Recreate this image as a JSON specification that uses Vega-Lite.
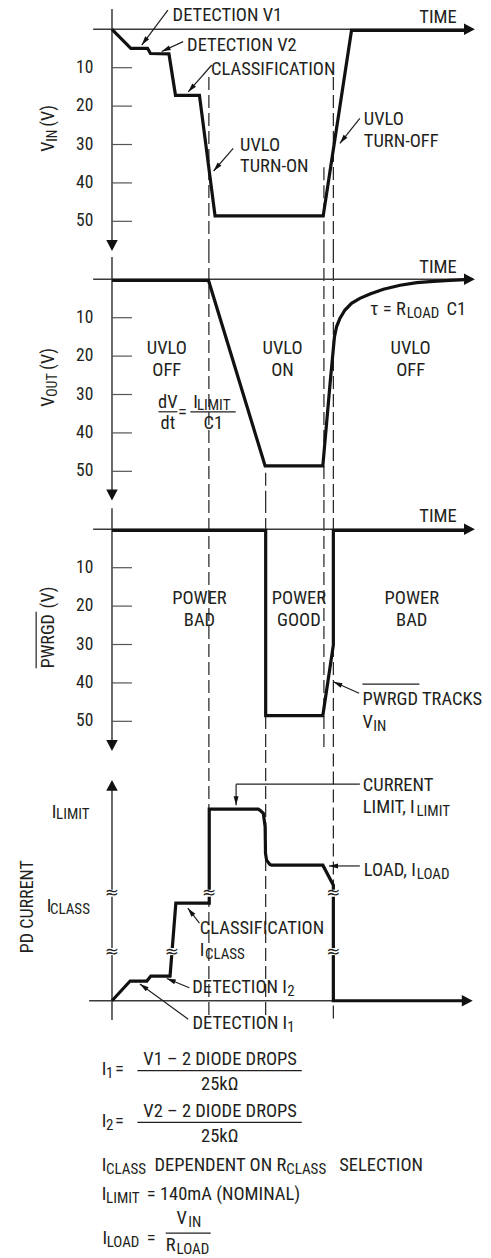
{
"$schema": "https://vega.github.io/schema/vega-lite/v6.json",
"padding": 0,
"spacing": 0,
"bounds": "flush",
"background": "white",
"config": {"view": {"stroke": null}, "axis": {"disable": true}, "text": {"font": "'Liberation Sans Narrow', 'Roboto Condensed', Roboto, sans-serif", "color": "#231f20"}},
"datasets": {
"top": [
{"p":"p1","k":"ax","t":-5.2,"t2":98,"v":0,"v2":0},
{"p":"p1","k":"ax","t":0,"t2":0,"v":-5.3,"v2":55},
{"p":"p1","k":"axhead","t":97,"v":0,"t2":100,"v2":0},
{"p":"p1","k":"axhead","t":0,"v":54,"t2":0,"v2":57.7},
{"p":"p1","k":"tick","t":-5.15,"v":10,"s":"10"},{"p":"p1","k":"tick","t":-5.15,"v":20,"s":"20"},{"p":"p1","k":"tick","t":-5.15,"v":30,"s":"30"},{"p":"p1","k":"tick","t":-5.15,"v":40,"s":"40"},{"p":"p1","k":"tick","t":-5.15,"v":50,"s":"50"},
{"p":"p1","k":"txtr","t":95,"v":-1.6,"s":"TIME"},
{"p":"p1","k":"trace","o":1,"t":0,"v":0},
{"p":"p1","k":"trace","o":2,"t":5.2,"v":4.95},
{"p":"p1","k":"trace","o":3,"t":9.8,"v":4.95},
{"p":"p1","k":"trace","o":4,"t":10.6,"v":6.3},
{"p":"p1","k":"trace","o":5,"t":15.7,"v":6.4},
{"p":"p1","k":"trace","o":6,"t":17.5,"v":17.2},
{"p":"p1","k":"trace","o":7,"t":24.1,"v":17.2},
{"p":"p1","k":"trace","o":8,"t":28.4,"v":48.6},
{"p":"p1","k":"trace","o":9,"t":58.2,"v":48.6},
{"p":"p1","k":"trace","o":10,"t":66.0,"v":0.3},
{"p":"p1","k":"trace","o":11,"t":98,"v":0.3},
{"p":"p1","k":"dash","t":26.7,"v":12.4,"v2":57.47},
{"p":"p1","k":"dash","t":58.4,"v":35.9,"v2":57.47},
{"p":"p1","k":"dash","t":61.0,"v":12.4,"v2":57.47},
{"p":"p1","k":"lead","h":1,"t":15.4,"v":-5.0,"t2":8.2,"v2":4.1},
{"p":"p1","k":"lead","h":1,"t":19.6,"v":3.2,"t2":13.7,"v2":5.8},
{"p":"p1","k":"lead","h":1,"t":27.5,"v":9.3,"t2":21.0,"v2":16.3},
{"p":"p1","k":"lead","h":1,"t":33.4,"v":31.0,"t2":28.0,"v2":36.9},
{"p":"p1","k":"lead","h":1,"t":68.3,"v":23.2,"t2":62.8,"v2":29.7},
{"p":"p1","k":"txt","t":16.7,"v":-2.24,"s":"DETECTION V1"},
{"p":"p1","k":"txt","t":20.7,"v":5.57,"s":"DETECTION V2"},
{"p":"p1","k":"txt","t":27.3,"v":11.9,"s":"CLASSIFICATION"},
{"p":"p1","k":"txt","t":35.3,"v":31.6,"s":"UVLO"},
{"p":"p1","k":"txt","t":35.3,"v":37.1,"s":"TURN-ON"},
{"p":"p1","k":"txt","t":69.4,"v":24.9,"s":"UVLO"},
{"p":"p1","k":"txt","t":69.4,"v":30.6,"s":"TURN-OFF"},
{"p":"p1","k":"title","t":-16.0,"v":31.9,"s":"V"},
{"p":"p1","k":"titlesub","t":-16.0,"v":29.3,"s":"IN"},
{"p":"p1","k":"title","t":-16.0,"v":25.4,"s":"(V)"},

{"p":"p2","k":"ax","t":-5.2,"t2":98,"v":0,"v2":0},
{"p":"p2","k":"ax","t":0,"t2":0,"v":-5.8,"v2":55},
{"p":"p2","k":"axhead","t":97,"v":0,"t2":100,"v2":0},
{"p":"p2","k":"axhead","t":0,"v":54,"t2":0,"v2":57.6},
{"p":"p2","k":"tick","t":-5.15,"v":10,"s":"10"},{"p":"p2","k":"tick","t":-5.15,"v":20,"s":"20"},{"p":"p2","k":"tick","t":-5.15,"v":30,"s":"30"},{"p":"p2","k":"tick","t":-5.15,"v":40,"s":"40"},{"p":"p2","k":"tick","t":-5.15,"v":50,"s":"50"},
{"p":"p2","k":"txtr","t":95,"v":-1.7,"s":"TIME"},
{"p":"p2","k":"trace","o":1,"t":0,"v":0.3},
{"p":"p2","k":"trace","o":2,"t":26.6,"v":0.3},
{"p":"p2","k":"trace","o":3,"t":42.2,"v":48.6},
{"p":"p2","k":"trace","o":4,"t":58.1,"v":48.6},
{"p":"p2","k":"trace","o":5,"t":60.1,"v":27.1},
{"p":"p2","k":"trace","o":6,"t":61.3,"v":15.0},
{"p":"p2","k":"trace","o":7,"t":61.9,"v":12.3},
{"p":"p2","k":"trace","o":8,"t":62.8,"v":10.2},
{"p":"p2","k":"trace","o":9,"t":64.2,"v":8.0},
{"p":"p2","k":"trace","o":10,"t":66.0,"v":6.25},
{"p":"p2","k":"trace","o":11,"t":68.3,"v":4.95},
{"p":"p2","k":"trace","o":12,"t":71.1,"v":3.83},
{"p":"p2","k":"trace","o":13,"t":74.8,"v":2.6},
{"p":"p2","k":"trace","o":14,"t":79.4,"v":1.56},
{"p":"p2","k":"trace","o":15,"t":84.0,"v":0.88},
{"p":"p2","k":"trace","o":16,"t":88.5,"v":0.52},
{"p":"p2","k":"trace","o":17,"t":93.1,"v":0.26},
{"p":"p2","k":"trace","o":18,"t":97.3,"v":0.1},
{"p":"p2","k":"dash","t":26.7,"v":-7.63,"v2":57.47},
{"p":"p2","k":"dash","t":42.35,"v":50.4,"v2":57.47},
{"p":"p2","k":"dash","t":58.4,"v":-7.63,"v2":57.47},
{"p":"p2","k":"dash","t":61.0,"v":-7.63,"v2":57.47},
{"p":"p2","k":"txtc","t":15.1,"v":19.45,"s":"UVLO"},
{"p":"p2","k":"txtc","t":15.1,"v":25.2,"s":"OFF"},
{"p":"p2","k":"txtc","t":47.0,"v":19.45,"s":"UVLO"},
{"p":"p2","k":"txtc","t":47.0,"v":25.2,"s":"ON"},
{"p":"p2","k":"txtc","t":82.3,"v":19.45,"s":"UVLO"},
{"p":"p2","k":"txtc","t":82.3,"v":25.2,"s":"OFF"},
{"p":"p2","k":"txt","t":71.1,"v":9.3,"s":"τ = R"},
{"p":"p2","k":"sub","t":81.2,"v":9.3,"s":"LOAD"},
{"p":"p2","k":"txt","t":92.2,"v":9.3,"s":"C1"},
{"p":"p2","k":"txtc","t":15.4,"v":33.6,"s":"dV"},
{"p":"p2","k":"bar","t":12.8,"t2":18.0,"v":34.5,"v2":34.5},
{"p":"p2","k":"txtc","t":15.4,"v":39.1,"s":"dt"},
{"p":"p2","k":"txtc","t":19.4,"v":36.0,"s":"="},
{"p":"p2","k":"txt","t":22.4,"v":33.6,"s":"I"},
{"p":"p2","k":"sub","t":23.4,"v":33.2,"s":"LIMIT"},
{"p":"p2","k":"bar","t":21.6,"t2":34.1,"v":34.5,"v2":34.5},
{"p":"p2","k":"txtc","t":27.9,"v":39.1,"s":"C1"},
{"p":"p2","k":"title","t":-16.0,"v":33.2,"s":"V"},
{"p":"p2","k":"titlesub","t":-16.0,"v":30.6,"s":"OUT"},
{"p":"p2","k":"title","t":-16.0,"v":23.6,"s":"(V)"},

{"p":"p3","k":"ax","t":-5.2,"t2":98,"v":0,"v2":0},
{"p":"p3","k":"ax","t":0,"t2":0,"v":-5.5,"v2":55},
{"p":"p3","k":"axhead","t":97,"v":0,"t2":100,"v2":0},
{"p":"p3","k":"axhead","t":0,"v":54,"t2":0,"v2":57.7},
{"p":"p3","k":"tick","t":-5.15,"v":10,"s":"10"},{"p":"p3","k":"tick","t":-5.15,"v":20,"s":"20"},{"p":"p3","k":"tick","t":-5.15,"v":30,"s":"30"},{"p":"p3","k":"tick","t":-5.15,"v":40,"s":"40"},{"p":"p3","k":"tick","t":-5.15,"v":50,"s":"50"},
{"p":"p3","k":"txtr","t":95,"v":-1.82,"s":"TIME"},
{"p":"p3","k":"trace","o":1,"t":0,"v":0.3},
{"p":"p3","k":"trace","o":2,"t":42.35,"v":0.3},
{"p":"p3","k":"trace","o":3,"t":42.35,"v":48.5},
{"p":"p3","k":"trace","o":4,"t":58.1,"v":48.5},
{"p":"p3","k":"trace","o":5,"t":61.0,"v":30.1},
{"p":"p3","k":"trace","o":6,"t":61.0,"v":0.3},
{"p":"p3","k":"trace","o":7,"t":98,"v":0.3},
{"p":"p3","k":"dash","t":26.7,"v":-7.63,"v2":57.47},
{"p":"p3","k":"dash","t":42.35,"v":-7.63,"v2":57.47},
{"p":"p3","k":"dash","t":58.4,"v":-7.63,"v2":57.47},
{"p":"p3","k":"dash","t":61.0,"v":-7.63,"v2":57.47},
{"p":"p3","k":"txtc","t":24.1,"v":19.53,"s":"POWER"},
{"p":"p3","k":"txtc","t":24.1,"v":25.1,"s":"BAD"},
{"p":"p3","k":"txtc","t":51.5,"v":19.53,"s":"POWER"},
{"p":"p3","k":"txtc","t":51.5,"v":25.1,"s":"GOOD"},
{"p":"p3","k":"txtc","t":82.6,"v":19.53,"s":"POWER"},
{"p":"p3","k":"txtc","t":82.6,"v":25.1,"s":"BAD"},
{"p":"p3","k":"txt","t":69.0,"v":45.75,"s":"PWRGD TRACKS"},
{"p":"p3","k":"bar","t":69.0,"t2":84.7,"v":40.3,"v2":40.3},
{"p":"p3","k":"txt","t":69.0,"v":51.8,"s":"V"},
{"p":"p3","k":"sub","t":72.0,"v":51.8,"s":"IN"},
{"p":"p3","k":"lead","h":1,"t":68.1,"v":42.7,"t2":61.0,"v2":39.7},
{"p":"p3","k":"title","t":-16.0,"v":36.2,"s":"PWRGD"},
{"p":"p3","k":"title","t":-16.0,"v":20.6,"s":"(V)"},
{"p":"p3","k":"bar","t":-20.9,"t2":-20.9,"v":21.5,"v2":36.2}
],
"bottom": [
{"k":"ax","t":-6.3,"t2":97,"v":0,"v2":0},
{"k":"ax","t":0,"t2":0,"v":-5.0,"v2":55},
{"k":"axhead","t":96,"v":0,"t2":99.4,"v2":0},
{"k":"axhead","t":0,"v":54,"t2":0,"v2":57.5},
{"k":"tick","v":50},
{"k":"tick","v":25},
{"k":"dash","t":26.7,"v":-3.7,"v2":65.3},
{"k":"dash","t":42.35,"v":-3.7,"v2":65.3},
{"k":"dash","t":61.0,"v":-4.6,"v2":65.3},
{"k":"trace","o":1,"t":0,"v":0},
{"k":"trace","o":2,"t":5.0,"v":5.13},
{"k":"trace","o":3,"t":9.6,"v":5.13},
{"k":"trace","o":4,"t":10.7,"v":6.43},
{"k":"trace","o":5,"t":16.0,"v":6.43},
{"k":"trace","o":6,"t":17.6,"v":25.4},
{"k":"trace","o":7,"t":26.8,"v":25.4},
{"k":"trace","o":8,"t":26.8,"v":49.9},
{"k":"trace","o":9,"t":40.3,"v":49.9},
{"k":"trace","o":10,"t":40.8,"v":49.6},
{"k":"trace","o":11,"t":41.7,"v":48.8},
{"k":"trace","o":12,"t":42.2,"v":45.3},
{"k":"trace","o":13,"t":42.3,"v":38.4},
{"k":"trace","o":14,"t":42.6,"v":36.6},
{"k":"trace","o":15,"t":43.5,"v":35.5},
{"k":"trace","o":16,"t":44.0,"v":35.3},
{"k":"trace","o":17,"t":58.1,"v":35.3},
{"k":"trace","o":18,"t":61.0,"v":30.1},
{"k":"trace","o":19,"t":61.0,"v":0},
{"k":"trace","o":20,"t":97,"v":0},
{"k":"brk","t":0,"v":28.0},
{"k":"brk","t":0,"v":12.8},
{"k":"brk","t":26.8,"v":28.0},
{"k":"brk","t":16.5,"v":12.8},
{"k":"brk","t":61.0,"v":28.0},
{"k":"brk","t":61.0,"v":12.8},
{"k":"lead","h":0,"t":68.3,"v":56.4,"t2":34.2,"v2":56.4},
{"k":"lead","h":1,"t":34.2,"v":56.4,"t2":34.2,"v2":50.9},
{"k":"lead","h":1,"t":68.3,"v":35.1,"t2":59.8,"v2":35.1},
{"k":"lead","h":1,"t":24.1,"v":20.2,"t2":20.9,"v2":24.1},
{"k":"lead","h":1,"t":21.3,"v":3.4,"t2":15.1,"v2":5.8},
{"k":"lead","h":1,"t":21.0,"v":-4.8,"t2":7.7,"v2":4.35},
{"k":"txt","t":-16.6,"v":47.5,"s":"I"},
{"k":"sub","t":-15.4,"v":48.0,"s":"LIMIT"},
{"k":"txt","t":-18.0,"v":23.2,"s":"I"},
{"k":"sub","t":-17.1,"v":23.4,"s":"CLASS"},
{"k":"titlec","t":-21.7,"v":24.5,"s":"PD CURRENT"},
{"k":"txt","t":69.1,"v":54.5,"s":"CURRENT"},
{"k":"txt","t":69.1,"v":48.8,"s":"LIMIT, I"},
{"k":"sub","t":83.9,"v":48.8,"s":"LIMIT"},
{"k":"txt","t":69.4,"v":32.5,"s":"LOAD, I"},
{"k":"sub","t":84.0,"v":32.5,"s":"LOAD"},
{"k":"txt","t":24.2,"v":17.5,"s":"CLASSIFICATION"},
{"k":"txt","t":24.2,"v":11.6,"s":"I"},
{"k":"sub","t":25.6,"v":11.6,"s":"CLASS"},
{"k":"txt","t":22.1,"v":1.9,"s":"DETECTION I"},
{"k":"sub","t":48.3,"v":1.9,"s":"2"},
{"k":"txt","t":22.2,"v":-7.45,"s":"DETECTION I"},
{"k":"sub","t":48.3,"v":-7.45,"s":"1"},
{"k":"txt","t":-2.84,"v":-19.35,"s":"I"},
{"k":"sub","t":-1.65,"v":-19.35,"s":"1"},
{"k":"txt","t":0.83,"v":-19.35,"s":"="},
{"k":"txtc","t":29.8,"v":-16.75,"s":"V1 – 2 DIODE DROPS"},
{"k":"bar","t":7.0,"t2":52.3,"v":-18.2,"v2":-18.2},
{"k":"txtc","t":29.7,"v":-23.25,"s":"25kΩ"},
{"k":"txt","t":-2.84,"v":-32.8,"s":"I"},
{"k":"sub","t":-1.65,"v":-32.8,"s":"2"},
{"k":"txt","t":0.83,"v":-32.8,"s":"="},
{"k":"txtc","t":29.8,"v":-30.4,"s":"V2 – 2 DIODE DROPS"},
{"k":"bar","t":7.0,"t2":52.3,"v":-31.7,"v2":-31.7},
{"k":"txtc","t":29.7,"v":-36.7,"s":"25kΩ"},
{"k":"txt","t":-2.84,"v":-44.3,"s":"I"},
{"k":"sub","t":-1.65,"v":-44.3,"s":"CLASS"},
{"k":"txt","t":11.7,"v":-44.3,"s":"DEPENDENT ON R"},
{"k":"sub","t":48.0,"v":-44.3,"s":"CLASS"},
{"k":"txt","t":62.6,"v":-44.3,"s":"SELECTION"},
{"k":"txt","t":-2.84,"v":-51.9,"s":"I"},
{"k":"sub","t":-1.65,"v":-51.9,"s":"LIMIT"},
{"k":"txt","t":9.6,"v":-51.9,"s":"= 140mA (NOMINAL)"},
{"k":"txt","t":-2.6,"v":-63.3,"s":"I"},
{"k":"sub","t":-1.46,"v":-63.3,"s":"LOAD"},
{"k":"txt","t":9.6,"v":-63.3,"s":"="},
{"k":"txt","t":17.8,"v":-58.2,"s":"V"},
{"k":"sub","t":21.0,"v":-58.2,"s":"IN"},
{"k":"bar","t":14.8,"t2":27.2,"v":-60.5,"v2":-60.5},
{"k":"txt","t":14.8,"v":-65.2,"s":"R"},
{"k":"sub","t":17.8,"v":-65.2,"s":"LOAD"}
]
},
"vconcat": [
{
"data": {"name": "top"},
"transform": [{"filter": "datum.p=='p1'"}],
"width": 491, "height": 250,
"encoding": {
"x": {"field": "t", "type": "quantitative", "axis": null, "scale": {"domain": [-30.86, 104.44], "nice": false, "zero": false}},
"y": {"field": "v", "type": "quantitative", "axis": null, "scale": {"domain": [-7.63, 57.47], "nice": false, "zero": false, "reverse": true}}
},
"layer": [
{"transform":[{"filter":"datum.k=='dash'"}],"mark":{"type":"rule","strokeDash":[13,5],"strokeWidth":1.2,"color":"#231f20"},"encoding":{"y2":{"field":"v2"}}},
{"transform":[{"filter":"datum.k=='ax'"}],"mark":{"type":"rule","strokeWidth":1.5,"color":"#3a3a3a"},"encoding":{"x2":{"field":"t2"},"y2":{"field":"v2"}}},
{"transform":[{"filter":"datum.k=='tick'"}],"mark":{"type":"rule","strokeWidth":1.2,"color":"#555555"},"encoding":{"x":{"datum":0,"type":"quantitative","axis":null},"x2":{"datum":5.5}}},
{"transform":[{"filter":"datum.k=='tick'"}],"mark":{"type":"text","align":"right","baseline":"middle","fontSize":17.5},"encoding":{"text":{"field":"s"}}},
{"transform":[{"filter":"datum.k=='trace'"}],"mark":{"type":"line","strokeWidth":3.2,"color":"#111111","strokeJoin":"miter","strokeMiterLimit":3},"encoding":{"order":{"field":"o","type":"quantitative"}}},
{"transform":[{"filter":"datum.k=='lead' || datum.k=='bar'"}],"mark":{"type":"rule","strokeWidth":1.2,"color":"#231f20"},"encoding":{"x2":{"field":"t2"},"y2":{"field":"v2"}}},
{"transform":[{"filter":"datum.k=='lead' && datum.h==1"},{"calculate":"atan2((datum.t2-datum.t)*3.629, -(datum.v2-datum.v)*3.84)*180/PI","as":"ang"}],"mark":{"type":"point","shape":"M0,0L0.55,2L-0.55,2Z","filled":true,"opacity":1,"color":"#111111","size":81,"strokeWidth":0},"encoding":{"x":{"field":"t2","type":"quantitative","axis":null},"y":{"field":"v2","type":"quantitative","axis":null},"angle":{"field":"ang","type":"quantitative","scale":null}}},
{"transform":[{"filter":"datum.k=='axhead'"},{"calculate":"atan2((datum.t2-datum.t)*3.629, -(datum.v2-datum.v)*3.84)*180/PI","as":"ang"}],"mark":{"type":"point","shape":"M0,0L1,1.9L-1,1.9Z","filled":true,"opacity":1,"color":"#111111","size":132,"strokeWidth":0},"encoding":{"x":{"field":"t2","type":"quantitative","axis":null},"y":{"field":"v2","type":"quantitative","axis":null},"angle":{"field":"ang","type":"quantitative","scale":null}}},
{"transform":[{"filter":"datum.k=='txt'"}],"mark":{"type":"text","align":"left","baseline":"alphabetic","fontSize":18.5},"encoding":{"text":{"field":"s"}}},
{"transform":[{"filter":"datum.k=='txtc'"}],"mark":{"type":"text","align":"center","baseline":"alphabetic","fontSize":18.5},"encoding":{"text":{"field":"s"}}},
{"transform":[{"filter":"datum.k=='txtr'"}],"mark":{"type":"text","align":"right","baseline":"alphabetic","fontSize":18.5},"encoding":{"text":{"field":"s"}}},
{"transform":[{"filter":"datum.k=='sub'"}],"mark":{"type":"text","align":"left","baseline":"alphabetic","fontSize":15,"dy":3},"encoding":{"text":{"field":"s"}}},
{"transform":[{"filter":"datum.k=='title'"}],"mark":{"type":"text","align":"left","baseline":"alphabetic","fontSize":18,"angle":270},"encoding":{"text":{"field":"s"}}},
{"transform":[{"filter":"datum.k=='titlesub'"}],"mark":{"type":"text","align":"left","baseline":"alphabetic","fontSize":14,"angle":270,"dy":3.5},"encoding":{"text":{"field":"s"}}}
]
},
{
"data": {"name": "top"},
"transform": [{"filter": "datum.p=='p2'"}],
"width": 491, "height": 250,
"encoding": {
"x": {"field": "t", "type": "quantitative", "axis": null, "scale": {"domain": [-30.86, 104.44], "nice": false, "zero": false}},
"y": {"field": "v", "type": "quantitative", "axis": null, "scale": {"domain": [-7.63, 57.47], "nice": false, "zero": false, "reverse": true}}
},
"layer": [
{"transform":[{"filter":"datum.k=='dash'"}],"mark":{"type":"rule","strokeDash":[13,5],"strokeWidth":1.2,"color":"#231f20"},"encoding":{"y2":{"field":"v2"}}},
{"transform":[{"filter":"datum.k=='ax'"}],"mark":{"type":"rule","strokeWidth":1.5,"color":"#3a3a3a"},"encoding":{"x2":{"field":"t2"},"y2":{"field":"v2"}}},
{"transform":[{"filter":"datum.k=='tick'"}],"mark":{"type":"rule","strokeWidth":1.2,"color":"#555555"},"encoding":{"x":{"datum":0,"type":"quantitative","axis":null},"x2":{"datum":5.5}}},
{"transform":[{"filter":"datum.k=='tick'"}],"mark":{"type":"text","align":"right","baseline":"middle","fontSize":17.5},"encoding":{"text":{"field":"s"}}},
{"transform":[{"filter":"datum.k=='trace'"}],"mark":{"type":"line","strokeWidth":3.2,"color":"#111111","strokeJoin":"miter","strokeMiterLimit":3},"encoding":{"order":{"field":"o","type":"quantitative"}}},
{"transform":[{"filter":"datum.k=='lead' || datum.k=='bar'"}],"mark":{"type":"rule","strokeWidth":1.2,"color":"#231f20"},"encoding":{"x2":{"field":"t2"},"y2":{"field":"v2"}}},
{"transform":[{"filter":"datum.k=='axhead'"},{"calculate":"atan2((datum.t2-datum.t)*3.629, -(datum.v2-datum.v)*3.84)*180/PI","as":"ang"}],"mark":{"type":"point","shape":"M0,0L1,1.9L-1,1.9Z","filled":true,"opacity":1,"color":"#111111","size":132,"strokeWidth":0},"encoding":{"x":{"field":"t2","type":"quantitative","axis":null},"y":{"field":"v2","type":"quantitative","axis":null},"angle":{"field":"ang","type":"quantitative","scale":null}}},
{"transform":[{"filter":"datum.k=='txt'"}],"mark":{"type":"text","align":"left","baseline":"alphabetic","fontSize":18.5},"encoding":{"text":{"field":"s"}}},
{"transform":[{"filter":"datum.k=='txtc'"}],"mark":{"type":"text","align":"center","baseline":"alphabetic","fontSize":18.5},"encoding":{"text":{"field":"s"}}},
{"transform":[{"filter":"datum.k=='txtr'"}],"mark":{"type":"text","align":"right","baseline":"alphabetic","fontSize":18.5},"encoding":{"text":{"field":"s"}}},
{"transform":[{"filter":"datum.k=='sub'"}],"mark":{"type":"text","align":"left","baseline":"alphabetic","fontSize":15,"dy":3},"encoding":{"text":{"field":"s"}}},
{"transform":[{"filter":"datum.k=='title'"}],"mark":{"type":"text","align":"left","baseline":"alphabetic","fontSize":18,"angle":270},"encoding":{"text":{"field":"s"}}},
{"transform":[{"filter":"datum.k=='titlesub'"}],"mark":{"type":"text","align":"left","baseline":"alphabetic","fontSize":14,"angle":270,"dy":3.5},"encoding":{"text":{"field":"s"}}}
]
},
{
"data": {"name": "top"},
"transform": [{"filter": "datum.p=='p3'"}],
"width": 491, "height": 250,
"encoding": {
"x": {"field": "t", "type": "quantitative", "axis": null, "scale": {"domain": [-30.86, 104.44], "nice": false, "zero": false}},
"y": {"field": "v", "type": "quantitative", "axis": null, "scale": {"domain": [-7.63, 57.47], "nice": false, "zero": false, "reverse": true}}
},
"layer": [
{"transform":[{"filter":"datum.k=='dash'"}],"mark":{"type":"rule","strokeDash":[13,5],"strokeWidth":1.2,"color":"#231f20"},"encoding":{"y2":{"field":"v2"}}},
{"transform":[{"filter":"datum.k=='ax'"}],"mark":{"type":"rule","strokeWidth":1.5,"color":"#3a3a3a"},"encoding":{"x2":{"field":"t2"},"y2":{"field":"v2"}}},
{"transform":[{"filter":"datum.k=='tick'"}],"mark":{"type":"rule","strokeWidth":1.2,"color":"#555555"},"encoding":{"x":{"datum":0,"type":"quantitative","axis":null},"x2":{"datum":5.5}}},
{"transform":[{"filter":"datum.k=='tick'"}],"mark":{"type":"text","align":"right","baseline":"middle","fontSize":17.5},"encoding":{"text":{"field":"s"}}},
{"transform":[{"filter":"datum.k=='trace'"}],"mark":{"type":"line","strokeWidth":3.2,"color":"#111111","strokeJoin":"miter","strokeMiterLimit":3},"encoding":{"order":{"field":"o","type":"quantitative"}}},
{"transform":[{"filter":"datum.k=='lead' || datum.k=='bar'"}],"mark":{"type":"rule","strokeWidth":1.2,"color":"#231f20"},"encoding":{"x2":{"field":"t2"},"y2":{"field":"v2"}}},
{"transform":[{"filter":"datum.k=='lead' && datum.h==1"},{"calculate":"atan2((datum.t2-datum.t)*3.629, -(datum.v2-datum.v)*3.84)*180/PI","as":"ang"}],"mark":{"type":"point","shape":"M0,0L0.55,2L-0.55,2Z","filled":true,"opacity":1,"color":"#111111","size":81,"strokeWidth":0},"encoding":{"x":{"field":"t2","type":"quantitative","axis":null},"y":{"field":"v2","type":"quantitative","axis":null},"angle":{"field":"ang","type":"quantitative","scale":null}}},
{"transform":[{"filter":"datum.k=='axhead'"},{"calculate":"atan2((datum.t2-datum.t)*3.629, -(datum.v2-datum.v)*3.84)*180/PI","as":"ang"}],"mark":{"type":"point","shape":"M0,0L1,1.9L-1,1.9Z","filled":true,"opacity":1,"color":"#111111","size":132,"strokeWidth":0},"encoding":{"x":{"field":"t2","type":"quantitative","axis":null},"y":{"field":"v2","type":"quantitative","axis":null},"angle":{"field":"ang","type":"quantitative","scale":null}}},
{"transform":[{"filter":"datum.k=='txt'"}],"mark":{"type":"text","align":"left","baseline":"alphabetic","fontSize":18.5},"encoding":{"text":{"field":"s"}}},
{"transform":[{"filter":"datum.k=='txtc'"}],"mark":{"type":"text","align":"center","baseline":"alphabetic","fontSize":18.5},"encoding":{"text":{"field":"s"}}},
{"transform":[{"filter":"datum.k=='txtr'"}],"mark":{"type":"text","align":"right","baseline":"alphabetic","fontSize":18.5},"encoding":{"text":{"field":"s"}}},
{"transform":[{"filter":"datum.k=='sub'"}],"mark":{"type":"text","align":"left","baseline":"alphabetic","fontSize":15,"dy":3},"encoding":{"text":{"field":"s"}}},
{"transform":[{"filter":"datum.k=='title'"}],"mark":{"type":"text","align":"left","baseline":"alphabetic","fontSize":18,"angle":270},"encoding":{"text":{"field":"s"}}}
]
},
{
"data": {"name": "bottom"},
"width": 491, "height": 508,
"encoding": {
"x": {"field": "t", "type": "quantitative", "axis": null, "scale": {"domain": [-30.86, 104.44], "nice": false, "zero": false}},
"y": {"field": "v", "type": "quantitative", "axis": null, "scale": {"domain": [-67.0, 65.3], "nice": false, "zero": false}}
},
"layer": [
{"transform":[{"filter":"datum.k=='dash'"}],"mark":{"type":"rule","strokeDash":[13,5],"strokeWidth":1.2,"color":"#231f20"},"encoding":{"y2":{"field":"v2"}}},
{"transform":[{"filter":"datum.k=='ax'"}],"mark":{"type":"rule","strokeWidth":1.5,"color":"#3a3a3a"},"encoding":{"x2":{"field":"t2"},"y2":{"field":"v2"}}},
{"transform":[{"filter":"datum.k=='tick'"}],"mark":{"type":"rule","strokeWidth":1.2,"color":"#555555"},"encoding":{"x":{"datum":0,"type":"quantitative","axis":null},"x2":{"datum":5.5}}},
{"transform":[{"filter":"datum.k=='trace'"}],"mark":{"type":"line","strokeWidth":3.2,"color":"#111111","strokeJoin":"miter","strokeMiterLimit":3},"encoding":{"order":{"field":"o","type":"quantitative"}}},
{"transform":[{"filter":"datum.k=='brk'"}],"mark":{"type":"point","shape":"square","filled":true,"color":"white","opacity":1,"size":50,"strokeWidth":0}},
{"transform":[{"filter":"datum.k=='brk'"}],"mark":{"type":"text","text":"≈","align":"center","baseline":"middle","fontSize":17,"font":"DejaVu Sans"}},
{"transform":[{"filter":"datum.k=='lead' || datum.k=='bar'"}],"mark":{"type":"rule","strokeWidth":1.2,"color":"#231f20"},"encoding":{"x2":{"field":"t2"},"y2":{"field":"v2"}}},
{"transform":[{"filter":"datum.k=='lead' && datum.h==1"},{"calculate":"atan2((datum.t2-datum.t)*3.629, (datum.v2-datum.v)*3.84)*180/PI","as":"ang"}],"mark":{"type":"point","shape":"M0,0L0.55,2L-0.55,2Z","filled":true,"opacity":1,"color":"#111111","size":81,"strokeWidth":0},"encoding":{"x":{"field":"t2","type":"quantitative","axis":null},"y":{"field":"v2","type":"quantitative","axis":null},"angle":{"field":"ang","type":"quantitative","scale":null}}},
{"transform":[{"filter":"datum.k=='axhead'"},{"calculate":"atan2((datum.t2-datum.t)*3.629, (datum.v2-datum.v)*3.84)*180/PI","as":"ang"}],"mark":{"type":"point","shape":"M0,0L1,1.9L-1,1.9Z","filled":true,"opacity":1,"color":"#111111","size":132,"strokeWidth":0},"encoding":{"x":{"field":"t2","type":"quantitative","axis":null},"y":{"field":"v2","type":"quantitative","axis":null},"angle":{"field":"ang","type":"quantitative","scale":null}}},
{"transform":[{"filter":"datum.k=='txt'"}],"mark":{"type":"text","align":"left","baseline":"alphabetic","fontSize":18.5},"encoding":{"text":{"field":"s"}}},
{"transform":[{"filter":"datum.k=='txtc'"}],"mark":{"type":"text","align":"center","baseline":"alphabetic","fontSize":18.5},"encoding":{"text":{"field":"s"}}},
{"transform":[{"filter":"datum.k=='sub'"}],"mark":{"type":"text","align":"left","baseline":"alphabetic","fontSize":15,"dy":3},"encoding":{"text":{"field":"s"}}},
{"transform":[{"filter":"datum.k=='titlec'"}],"mark":{"type":"text","align":"center","baseline":"alphabetic","fontSize":18,"angle":270},"encoding":{"text":{"field":"s"}}}
]
}
]
}
